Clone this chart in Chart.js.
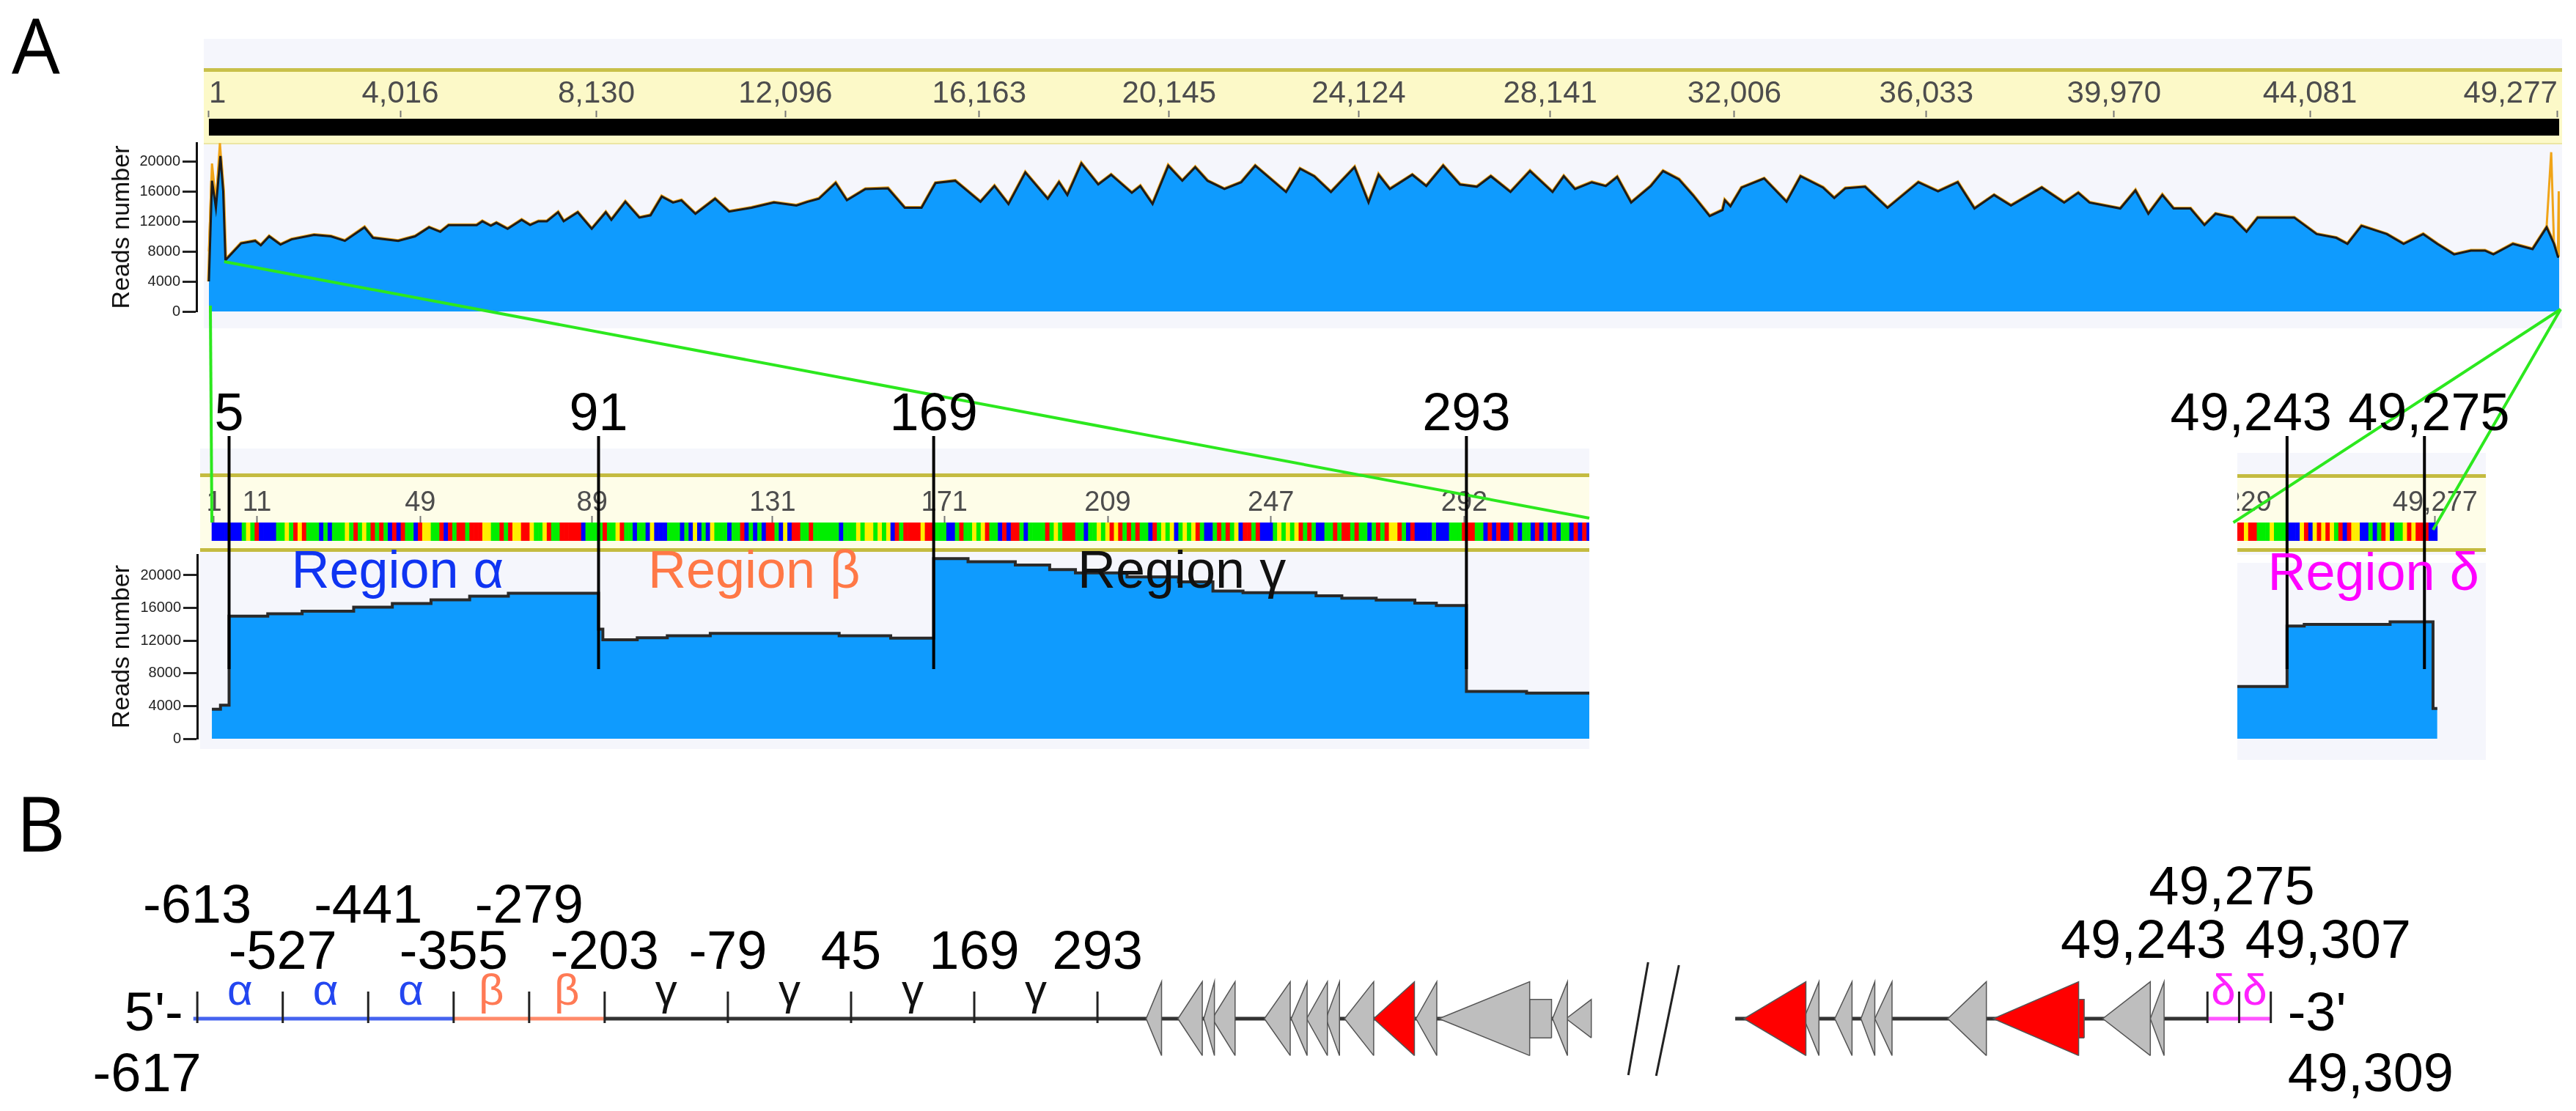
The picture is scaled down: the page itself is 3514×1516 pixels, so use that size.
<!DOCTYPE html>
<html>
<head>
<meta charset="utf-8">
<title>Reads coverage</title>
<script src="https://cdn.jsdelivr.net/npm/chart.js@4.4.1/dist/chart.umd.min.js"></script>
<style>
  body { margin: 0; width: 3514px; height: 1516px; position: relative; overflow: hidden; background: #fff; font-family: "Liberation Sans", Arial, sans-serif; }
  .band { position: absolute; box-sizing: border-box; }
  .holder { position: absolute; overflow: hidden; }
  .holder canvas { position: absolute; top: 0; }
  .txt { position: absolute; white-space: nowrap; line-height: 1; z-index: 5; }
  svg { position: absolute; left: 0; top: 0; z-index: 4; }
</style>
</head>
<body>
<script>
//Data

//whole genome ruler + coverage
const topTicks = [1, 4016, 8130, 12096, 16163, 20145, 24124, 28141, 32006, 36033, 39970, 44081, 49277];
const readTicks = [0, 4000, 8000, 12000, 16000, 20000];
const topPos = [1, 66, 148, 242, 301, 348, 678, 971, 1090, 1266, 1502, 1737, 2208, 2560, 2854, 3266, 3443, 3972,
  4326, 4620, 4855, 5032, 5620, 5738, 5915, 6032, 6268, 6562, 6739, 6915, 7092, 7327, 7444, 7739, 8033, 8327,
  8444, 8738, 9032, 9267, 9502, 9738, 9914, 10208, 10620, 10914, 11385, 11855, 12327, 12562, 12798, 13150,
  13386, 13775, 14246, 14600, 14952, 15246, 15658, 16189, 16482, 16776, 17130, 17600, 17836, 18011, 18306,
  18659, 18929, 19364, 19541, 19799, 20129, 20423, 20694, 20952, 21306, 21659, 21953, 22600, 22894, 23189,
  23541, 24036, 24330, 24542, 24777, 25248, 25542, 25896, 26248, 26602, 26895, 27308, 27718, 28191, 28426,
  28661, 29014, 29308, 29545, 29839, 30251, 30510, 30839, 31133, 31487, 31757, 31806, 31923, 32158, 32629,
  33100, 33394, 33864, 34101, 34336, 34747, 35218, 35866, 36278, 36690, 37042, 37454, 37808, 38454, 38924,
  39220, 39455, 40102, 40419, 40690, 40984, 41219, 41573, 41867, 42102, 42456, 42750, 42985, 43456, 43750,
  44221, 44633, 44868, 45163, 45692, 46045, 46457, 46751, 47104, 47458, 47752, 47929, 48340, 48752, 49046,
  49200, 49282, 49309];
const topReads = [4000, 17400, 13800, 20700, 16000, 6830, 9070, 9400, 8800, 10000, 8900, 9600, 10200, 10000, 9400, 11200, 9800, 9400,
  10000, 11200, 10600, 11500, 11500, 12000, 11400, 11800, 11000, 12200, 11500, 12000, 12000, 13200, 12000, 13200, 11000, 13200,
  12200, 14600, 12500, 12800, 15300, 14500, 14800, 13000, 15000, 13300, 13800, 14500, 14100, 14600, 15000, 17100,
  14800, 16300, 16400, 13800, 13800, 17100, 17400, 14600, 16700, 14300, 18500, 15000, 17200, 15500, 19700,
  16900, 18200, 15800, 16700, 14300, 19400, 17400, 19200, 17400, 16300, 17200, 19400, 15900, 19000, 18000,
  15900, 19200, 14500, 18200, 16300, 18200, 16700, 19400, 16900, 16600, 18000, 15900, 18700, 15900, 18000,
  16300, 17200, 16700, 17900, 14500, 16700, 18700, 17600, 15500, 12700, 13500, 14800, 14000, 16500, 17700,
  14600, 18000, 16500, 15100, 16400, 16600, 13800, 17200, 16000, 17200, 13700, 15500, 14100, 16500, 14500,
  15800, 14500, 13700, 16100, 13000, 15500, 13700, 13700, 11500, 13000, 12500, 10600, 12500, 12500, 12500,
  10300, 9800, 9000, 11400, 10300, 9000, 10300, 9000, 7600, 8100, 8100, 7600, 9000, 8300, 11200,
  9000, 7300, 7300];
//maximum reads at both genome ends (orange spikes)
const maxStartPos = [1, 66, 148, 232, 301, 348];
const maxStartReads = [8000, 19700, 14500, 22400, 16500, 7000];
const maxEndPos = [49046, 49142, 49200, 49282, 49300, 49309];
const maxEndReads = [11300, 21200, 9100, 7400, 16000, 7300];

//5' end zoom (regions alpha, beta, gamma)
const midTicks = [1, 11, 49, 89, 131, 171, 209, 247, 292];
const midSeq =
  "CCCCCCCTGTACCCCTTGTAGATTTCTCTTTGTATGTATATCACATTCAGGTTACATAATAAAGGTTATAGGAAGTTGATTAAAAACT" +
  "TTTATTGATTCTTCGCCCTTTCTCGCTCGTTTCTTACTCTCAATCGCAATTATTTTTTCTTTGTGGTGTGCATAAAAGAATTTCCTAT" +
  "TGTGATTCACAATCTTTTATGTAAATTCTTGTGAGATATATTCATGTGCTGTGATCCTATATGCAATACCCTGTGTGATATCCTTATAA" +
  "TATTCTATAGGATCACCCCTCCCTTTAAATTCACACCATCTTCACTCACTTCACAC";
const midPos = [1, 3, 5, 14, 22, 34, 43, 52, 61, 70, 91, 92, 100, 107, 117, 147, 159, 169, 177, 188, 196, 202,
  214, 226, 234, 241, 258, 264, 272, 281, 286, 293, 307];
const midReads = [3600, 4100, 15000, 15300, 15600, 16100, 16550, 17000, 17450, 17800, 13400, 12100, 12350, 12600,
  12900, 12600, 12300, 22050, 21650, 21250, 20700, 20300, 19800, 19200, 18080, 17880, 17490, 17190, 16980,
  16590, 16290, 5790, 5580];
const midEnd = 321;
const cutSites = [5, 91, 169, 293];
const regionNames = ["Region \u03b1", "Region \u03b2", "Region \u03b3"];
const regionStart = [19, 102, 202];

//3' end zoom (region delta)
const deltaTicks = [49229, 49277];
const deltaSeqStart = 49231;
const deltaSeq = "AAGAATTTGTTTCCCGACGAGAGTACAGGCCTCTAGCTTGAGAAACC";
const deltaPos = [49231, 49243, 49247, 49267, 49277];
const deltaReads = [6380, 13790, 14000, 14300, 3700];
const deltaCutSites = [49243, 49275];
const deltaRegionName = "Region \u03b4";
const deltaRegionStart = 49238;

//panel B map
const mapTicksLeft = [-613, -527, -441, -355, -279, -203, -79, 45, 169, 293];
const mapTicksRight = [49243, 49275, 49307];
const mapStart = -617;
const mapEnd = 49309;
const spanStartLeft = [-617, -355, -203];
const spanEndLeft = [-355, -203, 790];
const spanStartRight = [48766, 49243];
const spanEndRight = [49243, 49307];
const greekLeft = ["\u03b1", "\u03b1", "\u03b1", "\u03b2", "\u03b2", "\u03b3", "\u03b3", "\u03b3", "\u03b3"];
const greekRight = ["\u03b4", "\u03b4"];
const leftGeneTip = [342, 374, 400, 408.5, 461, 488, 503.5, 523, 541.7, 571, 613.6, 636.6, 751, 764.7];
const leftGeneBase = [357.5, 398.5, 410.7, 431.5, 487, 504, 524.4, 536.6, 571, 612, 634.5, 728, 766, 790];
const leftGeneShaftEnd = [null, null, null, null, null, null, null, null, null, null, null, 750, null, null];
const leftGeneRed = [false, false, false, false, false, false, false, false, false, true, false, false, false, false];
const rightGeneTip = [48774.8, 48835.3, 48866.6, 48893, 48907, 48980.7, 49026.7, 49137.3, 49185.3];
const rightGeneBase = [48837.4, 48850.6, 48884, 48907, 48924.4, 49019.7, 49112.9, 49185.3, 49199.2];
const rightGeneShaftEnd = [null, null, null, null, null, null, 49118.5, null, null];
const rightGeneRed = [true, false, false, false, false, false, true, false, false];

//Styles
const FONT = '"Liberation Sans", Arial, sans-serif';
const baseColors = { A: "#ff0000", C: "#0000ff", G: "#ffee00", T: "#00ee00" };
const regionColors = ["#0f34f2", "#ff7846", "#111111"];
const greekColors = { "\u03b1": "#2346f0", "\u03b2": "#ff7a55", "\u03b3": "#111111", "\u03b4": "#ff22ff" };
const spanColorsLeft = ["#4563ef", "#ff8a6a", "#333333"];
const spanColorsRight = ["#333333", "#ff55ff"];
const fill = "#0f9bfe";
const orange = "#f0a418";
const green = "#2ce81e";

Chart.defaults.font.family = FONT;

const fmt = v => String(v).replace(/\B(?=(\d{3})+(?!\d))/g, ",");

//page helpers
function addBox(left, top, width, height, css) {
  let d = document.createElement("div");
  d.className = "band";
  d.style.cssText = `left:${left}px;top:${top}px;width:${width}px;height:${height}px;` + css;
  document.body.appendChild(d);
}

function holder(left, top, width, height, innerLeft = 0, innerWidth = width) {
  let div = document.createElement("div");
  div.className = "holder";
  div.style.cssText = `left:${left}px;top:${top}px;width:${width}px;height:${height}px;`;
  let canvas = document.createElement("canvas");
  canvas.width = innerWidth;
  canvas.height = height;
  canvas.style.cssText = `left:${innerLeft}px;width:${innerWidth}px;height:${height}px;`;
  div.appendChild(canvas);
  document.body.appendChild(div);
  canvas.pageX = left + innerLeft;
  canvas.pageY = top;
  return canvas;
}

function addText(text, x, baseline, size, color, align, family) {
  let d = document.createElement("div");
  d.className = "txt";
  d.textContent = text;
  d.style.fontSize = size + "px";
  d.style.fontFamily = family || FONT;
  d.style.color = color;
  d.style.left = x + "px";
  d.style.top = (baseline - 0.8465 * size) + "px";
  if (align === "center") d.style.transform = "translateX(-50%)";
  if (align === "right") d.style.transform = "translateX(-100%)";
  document.body.appendChild(d);
}

const pageX = (chart, v) => chart.canvas.pageX + chart.scales.x.getPixelForValue(v);
const pageY = (chart, v) => chart.canvas.pageY + chart.scales.y.getPixelForValue(v);
const areaTop = chart => chart.canvas.pageY + chart.chartArea.top;

const common = {
  responsive: false,
  animation: false,
  events: [],
  plugins: { legend: { display: false }, tooltip: { enabled: false } }
};

//ruler along the top of a track
function rulerAxis(min, max, ticks, size, pad, align) {
  return {
    type: "linear", position: "top", min: min, max: max, offset: false,
    afterBuildTicks: s => { s.ticks = ticks.map(v => ({ value: v })); },
    afterFit: s => { s.height = 62; s.paddingLeft = 0; s.paddingRight = 0; },
    ticks: { autoSkip: false, maxRotation: 0, align: align || "center", padding: pad, color: "#4d4d4d", font: { size: size }, callback: v => fmt(v) },
    grid: { offset: false, drawOnChartArea: false, tickLength: 9, tickColor: "#777", tickWidth: 2 },
    border: { display: false }
  };
}

function hiddenAxis(width, extra) {
  return Object.assign({
    display: true,
    afterFit: s => { s.width = width; s.paddingTop = 0; s.paddingBottom = 0; },
    ticks: { display: false }, grid: { display: false }, border: { display: false }
  }, extra);
}

function readsAxis(max, width) {
  return {
    min: 0, max: max,
    afterBuildTicks: s => { s.ticks = readTicks.map(v => ({ value: v })); },
    afterFit: s => { s.width = width; s.paddingTop = 0; s.paddingBottom = 0; },
    ticks: { color: "#222", font: { size: 20 }, padding: 3, callback: v => String(v) },
    grid: { drawOnChartArea: false, tickLength: 19, tickColor: "#222", tickWidth: 3 },
    border: { color: "#111", width: 3 },
    title: { display: true, text: "Reads number", color: "#111", font: { size: 34 }, padding: { top: 6, bottom: 0 } }
  };
}

function points(xs, ys, shift = 0) {
  return xs.map((x, i) => ({ x: x + shift, y: ys[i] }));
}

//backgrounds
addBox(278, 53, 3217, 395, "background:#f5f6fc;");
addBox(278, 93, 3217, 104, "background:#fcf9c8;border-top:5px solid #c8c04a;border-bottom:2px solid #ece6a4;");
addBox(273, 612, 1895, 410, "background:#f5f6fc;");
addBox(273, 646, 1895, 107, "background:#fefde8;border-top:5px solid #c4bb40;border-bottom:5px solid #c4bb40;");
addBox(3052, 618, 339, 139, "background:#f5f6fc;");
addBox(3052, 768, 339, 269, "background:#f5f6fc;");
addBox(3052, 647, 339, 106, "background:#fefde8;border-top:5px solid #c4bb40;border-bottom:5px solid #c4bb40;");

//top: whole genome ruler
let topRuler = new Chart(holder(140, 98, 3355, 92), {
  type: "bar",
  data: { labels: ["consensus"], datasets: [{ data: [[1, mapEnd]], backgroundColor: "#000", barPercentage: 0.85, categoryPercentage: 1 }] },
  options: Object.assign({}, common, {
    indexAxis: "y",
    layout: { padding: { bottom: 3, right: 3 } },
    scales: { x: rulerAxis(-260, 49324, topTicks, 42, -3, "inner"), y: hiddenAxis(128) }
  })
});

//top: whole genome coverage
let topCov = new Chart(holder(140, 185, 3355, 250), {
  type: "line",
  data: {
    datasets: [
      { data: points(topPos, topReads), fill: "origin", backgroundColor: fill, borderColor: "#1c1c1c", borderWidth: 3, pointRadius: 0, order: 1 },
      { data: points(topPos, topReads), fill: false, borderColor: orange, borderWidth: 5, pointRadius: 0, order: 2 },
      { data: points(maxStartPos, maxStartReads), fill: false, borderColor: orange, borderWidth: 3, pointRadius: 0, order: 3 },
      { data: points(maxEndPos, maxEndReads), fill: false, borderColor: orange, borderWidth: 3, pointRadius: 0, order: 3 }
    ]
  },
  options: Object.assign({}, common, {
    layout: { padding: { top: 10, bottom: 10, right: 3 } },
    scales: { x: { type: "linear", display: false, min: -260, max: 49324 }, y: readsAxis(22440, 128) }
  })
});

//sequence bar chart (one bar per base)
function seqData(seq, start) {
  return {
    datasets: [{
      data: seq.split("").map((b, i) => ({ x: start + i, y: [0, 1] })),
      backgroundColor: seq.split("").map(b => baseColors[b]),
      barPercentage: 1, categoryPercentage: 1, borderWidth: 0
    }]
  };
}

let midRuler = new Chart(holder(140, 651, 2028, 88), {
  type: "bar",
  data: seqData(midSeq, 1),
  options: Object.assign({}, common, {
    layout: { padding: { bottom: 1 } },
    scales: { x: rulerAxis(-2.92, 321.1, midTicks, 38, -5), y: hiddenAxis(129, { min: 0, max: 1 }) }
  })
});

let midData = points(midPos, midReads, -0.5);
midData.push({ x: midEnd + 0.5, y: midReads[midReads.length - 1] });
let midCov = new Chart(holder(140, 747, 2028, 271), {
  type: "line",
  data: { datasets: [{ data: midData, stepped: "before", fill: "origin", backgroundColor: fill, borderColor: "#2a2a2a", borderWidth: 4, pointRadius: 0 }] },
  options: Object.assign({}, common, {
    layout: { padding: { top: 10, bottom: 10 } },
    scales: { x: { type: "linear", display: false, min: -2.92, max: 321.1 }, y: readsAxis(22510, 129) }
  })
});

let deltaRuler = new Chart(holder(3052, 651, 339, 88, -102, 441), {
  type: "bar",
  data: seqData(deltaSeq, deltaSeqStart),
  options: Object.assign({}, common, {
    layout: { padding: { bottom: 1 } },
    scales: { x: rulerAxis(49213.5, 49288.8, deltaTicks, 38, -5), y: { display: false, min: 0, max: 1 } }
  })
});

let deltaData = points(deltaPos, deltaReads, -0.5);
deltaData.push({ x: deltaPos[deltaPos.length - 1] + 0.5, y: deltaReads[deltaReads.length - 1] });
let deltaCov = new Chart(holder(3052, 747, 339, 271, -102, 441), {
  type: "line",
  data: { datasets: [{ data: deltaData, stepped: "before", fill: "origin", backgroundColor: fill, borderColor: "#2a2a2a", borderWidth: 4, pointRadius: 0 }] },
  options: Object.assign({}, common, {
    layout: { padding: { top: 10, bottom: 10 } },
    scales: { x: { type: "linear", display: false, min: 49213.5, max: 49288.8 }, y: { display: false, min: 0, max: 22510 } }
  })
});

//panel B: gene map
function mapSets(spanStart, spanEnd, spanColors, ticks, tips, bases, shafts, reds) {
  let sets = [];
  spanStart.forEach((s, i) => {
    sets.push({ data: [{ x: s, y: 0 }, { x: spanEnd[i], y: 0 }], borderColor: spanColors[i], borderWidth: 5, pointRadius: 0, fill: false, order: 10 });
  });
  sets.push({
    data: ticks.map(t => ({ x: t, y: 0.31 })), showLine: false, pointStyle: "line", pointRotation: 90,
    pointRadius: 21.5, pointBorderColor: "#222", pointBorderWidth: 3, order: 5
  });
  tips.forEach((t, i) => {
    let b = bases[i];
    let h = (i === tips.length - 1 && spanColors.length === 3) ? 0.52 : 1;
    let color = reds[i] ? "#ff0000" : "#bebebe";
    sets.push({
      data: [{ x: t, y: 0 }, { x: b, y: -h }, { x: t, y: 0 }, { x: b, y: h }, { x: b, y: -h }],
      fill: "shape", backgroundColor: color, borderColor: "#555", borderWidth: 1.5, pointRadius: 0, order: 1
    });
    if (shafts[i]) {
      let e = shafts[i], s = 0.52;
      sets.push({
        data: [{ x: b, y: -s }, { x: e, y: -s }, { x: b, y: -s }, { x: b, y: s }, { x: e, y: s }, { x: e, y: -s }],
        fill: "shape", backgroundColor: color, borderColor: "#555", borderWidth: 1.5, pointRadius: 0, order: 2
      });
    }
  });
  return sets;
}

function mapOptions(min, max) {
  return Object.assign({}, common, {
    scales: { x: { type: "linear", display: false, min: min, max: max }, y: { display: false, min: -1.3, max: 1.3 } }
  });
}

let mapLeft = new Chart(holder(230, 1300, 1985, 180), {
  type: "line",
  data: { datasets: mapSets(spanStartLeft, spanEndLeft, spanColorsLeft, mapTicksLeft, leftGeneTip, leftGeneBase, leftGeneShaftEnd, leftGeneRed) },
  options: mapOptions(-623.8, 804.6)
});

let mapRight = new Chart(holder(2330, 1300, 810, 180), {
  type: "line",
  data: { datasets: mapSets(spanStartRight, spanEndRight, spanColorsRight, mapTicksRight, rightGeneTip, rightGeneBase, rightGeneShaftEnd, rightGeneRed) },
  options: mapOptions(48756.7, 49320.2)
});

//overlay lines (connectors, cut sites, axis break)
const svgNS = "http://www.w3.org/2000/svg";
let svg = document.createElementNS(svgNS, "svg");
svg.setAttribute("width", 3514);
svg.setAttribute("height", 1516);
document.body.appendChild(svg);

function line(x1, y1, x2, y2, color, width) {
  let l = document.createElementNS(svgNS, "line");
  l.setAttribute("x1", x1); l.setAttribute("y1", y1);
  l.setAttribute("x2", x2); l.setAttribute("y2", y2);
  l.setAttribute("stroke", color); l.setAttribute("stroke-width", width);
  svg.appendChild(l);
}

//green zoom connectors
let rulerTop = areaTop(midRuler);
line(pageX(topCov, 1) + 2, pageY(topCov, 0) - 8, pageX(midRuler, 0.5), rulerTop, green, 4);
line(pageX(topCov, midEnd), pageY(topCov, 6630), midRuler.canvas.pageX + midRuler.chartArea.right, rulerTop - 6, green, 4);
let endX = pageX(topCov, mapEnd) + 2, endY = pageY(topCov, 0) - 3;
line(endX, endY, pageX(deltaRuler, deltaSeqStart - 0.5) - 3, areaTop(deltaRuler), green, 4);
line(endX, endY, pageX(deltaRuler, deltaSeqStart + deltaSeq.length - 1.5), areaTop(deltaRuler) + 10, green, 4);

//cut sites
cutSites.forEach(v => {
  let x = pageX(midRuler, v - 0.5);
  line(x, 595, x, 913, "#000", 4);
  addText(fmt(v), x, 587, 72, "#000", "center");
});
deltaCutSites.forEach((v, i) => {
  let x = pageX(deltaRuler, v - 0.5);
  line(x, 595, x, 913, "#000", 4);
  if (i === 0) addText(fmt(v), x + 61, 587, 72, "#000", "right");
  else addText(fmt(v), x - 104, 587, 72, "#000", "left");
});

//region names
regionNames.forEach((name, i) => addText(name, pageX(midCov, regionStart[i]), 802, 72, regionColors[i], "left"));
addText(deltaRegionName, pageX(deltaCov, deltaRegionStart), 805, 72, "#ff00ff", "left");

//axis break
let breakX = (mapLeft.canvas.pageX + mapLeft.chartArea.right + mapRight.canvas.pageX) / 2;
line(breakX - 12, 1313, breakX - 39, 1467, "#222", 3);
line(breakX + 30, 1317, breakX - 1, 1468, "#222", 3);

//panel B labels
const upperRow = [-613, -441, -279];
mapTicksLeft.forEach(v => {
  addText(fmt(v), pageX(mapLeft, v), upperRow.includes(v) ? 1260 : 1323, 74, "#000", "center");
});
greekLeft.forEach((g, i) => {
  addText(g, pageX(mapLeft, (mapTicksLeft[i] + mapTicksLeft[i + 1]) / 2), 1372, 60, greekColors[g], "center");
});
greekRight.forEach((g, i) => {
  addText(g, pageX(mapRight, (mapTicksRight[i] + mapTicksRight[i + 1]) / 2), 1372, 60, greekColors[g], "center");
});
addText(fmt(mapTicksRight[1]), pageX(mapRight, mapTicksRight[1]) - 10, 1235, 74, "#000", "center");
addText(fmt(mapTicksRight[0]), pageX(mapRight, mapTicksRight[0]) + 26, 1308, 74, "#000", "right");
addText(fmt(mapTicksRight[2]), pageX(mapRight, mapTicksRight[2]) - 35, 1308, 74, "#000", "left");
addText("5'-", pageX(mapLeft, mapStart) - 14, 1407, 74, "#000", "right");
addText(fmt(mapStart), pageX(mapLeft, mapStart) + 11, 1490, 74, "#000", "right");
addText("-3'", pageX(mapRight, mapTicksRight[2]) + 23, 1407, 74, "#000", "left");
addText(fmt(mapEnd), pageX(mapRight, mapTicksRight[2]) + 23, 1490, 74, "#000", "left");

//panel letters
addText("A", 16, 97, 104, "#000", "left", '"Open Sans", sans-serif');
addText("B", 22, 1158, 104, "#000", "left", '"Open Sans", sans-serif');
</script>
</body>
</html>
